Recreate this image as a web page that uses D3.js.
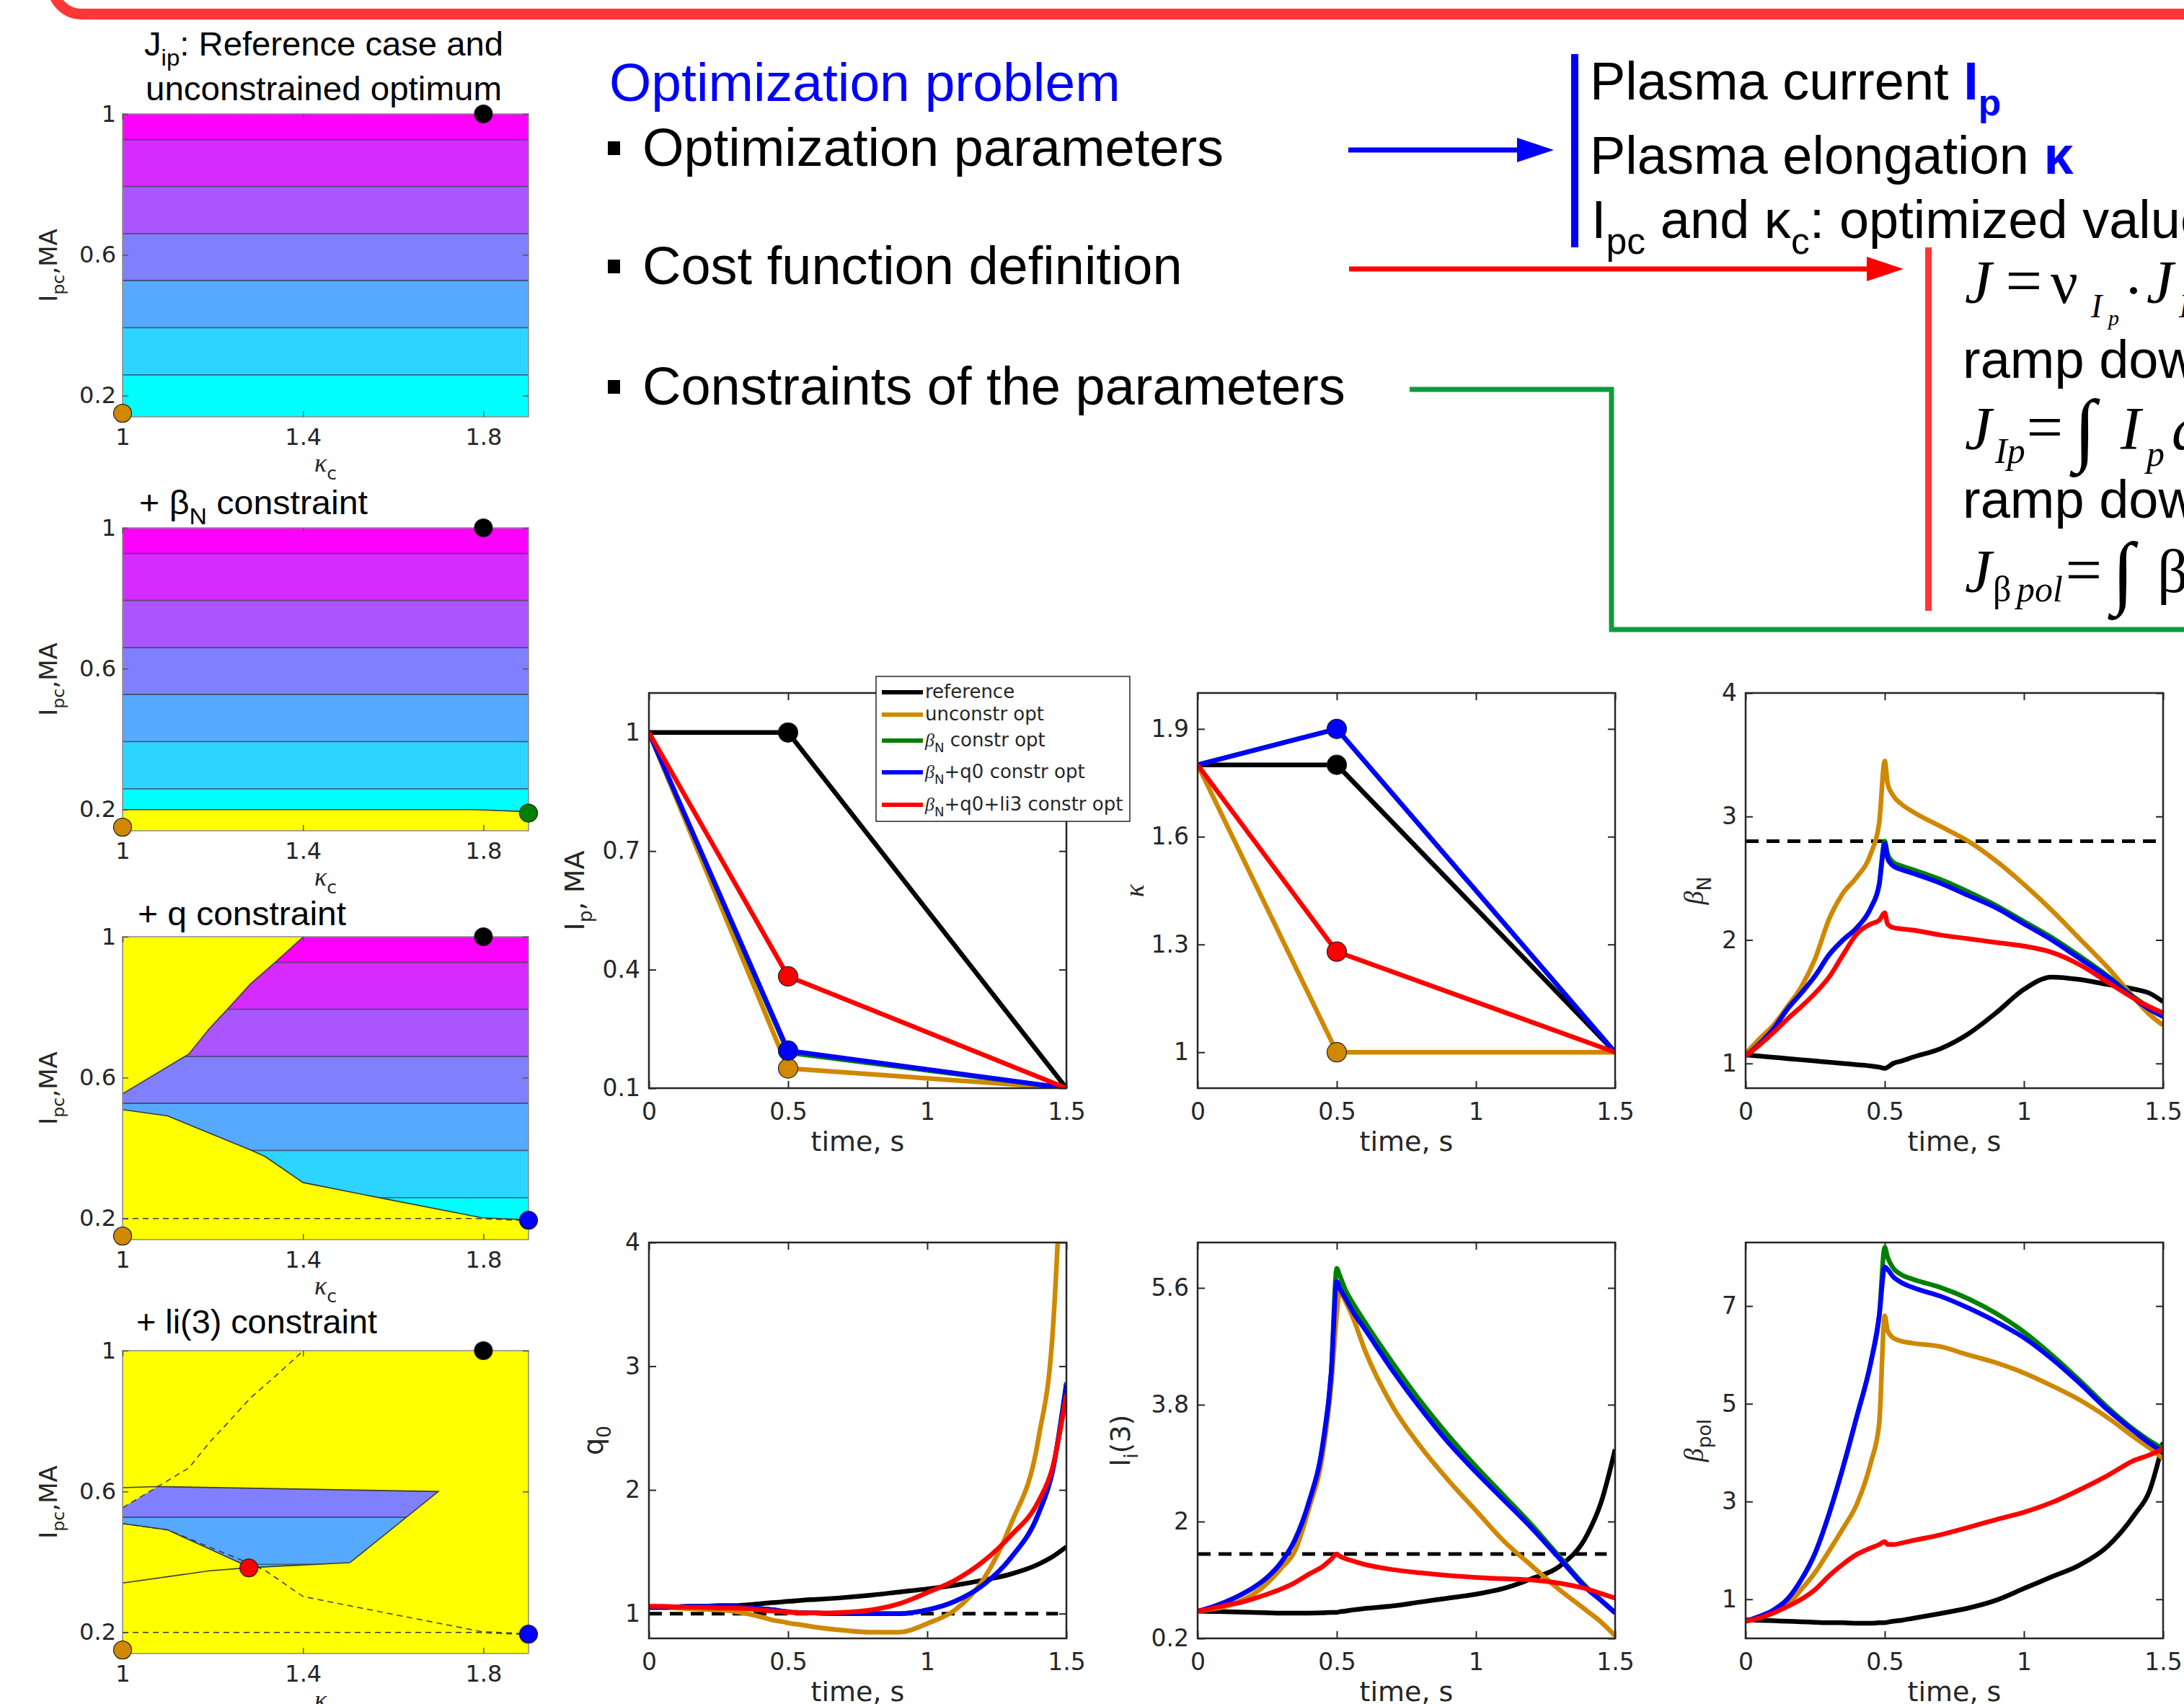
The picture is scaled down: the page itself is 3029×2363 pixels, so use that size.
<!DOCTYPE html>
<html>
<head>
<meta charset="utf-8">
<title>Optimization problem</title>
<script src="https://cdn.jsdelivr.net/npm/d3@7"></script>
<style>
  html, body { margin: 0; padding: 0; background: #fff; overflow: hidden; }
  svg { display: block; }
</style>
</head>
<body>
<svg id="chart" width="3029" height="2363" viewBox="0 0 3029 2363"></svg>
<script>
(function () {
  'use strict';

  // ---- time traces ----
  const T_DOMAIN = [0, 1.5];
  const T_TICKS = [0, 0.5, 1, 1.5];
  const T_KNOTS = [0, 0.5, 1.5];
  const T = [0, 0.05, 0.1, 0.15, 0.2, 0.25, 0.3, 0.35, 0.4, 0.45, 0.48, 0.5, 0.51, 0.53, 0.56,
             0.6, 0.7, 0.8, 0.9, 1.0, 1.1, 1.2, 1.3, 1.4, 1.45, 1.5];

  // plasma current waveform knots, MA
  const IP_REF = [1, 1, 0.1];
  const IP_UNC = [1, 0.15, 0.1];
  const IP_BN = [1, 0.19, 0.1];
  const IP_BNQ = [1, 0.195, 0.1];
  const IP_BNQLI = [1, 0.383, 0.1];

  // elongation waveform knots
  const KAPPA_REF = [1.8, 1.8, 1.0];
  const KAPPA_UNC = [1.8, 1.0, 1.0];
  const KAPPA_BN = [1.8, 1.9, 1.0];
  const KAPPA_BNQ = [1.8, 1.9, 1.0];
  const KAPPA_BNQLI = [1.8, 1.28, 1.0];

  // beta_N on T
  const BN_REF = [1.07, 1.06, 1.05, 1.04, 1.03, 1.02, 1.01, 1.00, 0.99, 0.98, 0.97, 0.96, 0.97, 1.00, 1.02,
                  1.05, 1.12, 1.24, 1.41, 1.60, 1.70, 1.68, 1.64, 1.60, 1.57, 1.50];
  const BN_UNC = [1.08, 1.20, 1.31, 1.46, 1.62, 1.85, 2.17, 2.38, 2.51, 2.70, 2.95, 3.45, 3.27, 3.17, 3.10,
                  3.04, 2.92, 2.80, 2.64, 2.45, 2.24, 2.01, 1.78, 1.52, 1.40, 1.31];
  const BN_BN = [1.06, 1.16, 1.28, 1.44, 1.57, 1.71, 1.88, 2.00, 2.10, 2.26, 2.45, 2.80, 2.70, 2.63, 2.60,
                 2.57, 2.49, 2.39, 2.28, 2.15, 2.02, 1.87, 1.71, 1.53, 1.45, 1.38];
  const BN_BNQ = [1.06, 1.16, 1.28, 1.44, 1.57, 1.71, 1.88, 2.00, 2.10, 2.26, 2.45, 2.78, 2.66, 2.60, 2.57,
                  2.54, 2.46, 2.36, 2.26, 2.13, 2.00, 1.85, 1.70, 1.52, 1.44, 1.38];
  const BN_BNQLI = [1.06, 1.15, 1.25, 1.36, 1.46, 1.57, 1.70, 1.88, 2.05, 2.13, 2.16, 2.22, 2.13, 2.10, 2.09,
                    2.08, 2.04, 2.01, 1.98, 1.95, 1.90, 1.80, 1.66, 1.52, 1.46, 1.41];
  const BN_LIMIT = 2.8;

  // q0 on T
  const Q_REF = [1.05, 1.05, 1.055, 1.06, 1.06, 1.065, 1.065, 1.07, 1.08, 1.09, 1.095, 1.10, 1.10, 1.105, 1.11,
                 1.115, 1.13, 1.15, 1.175, 1.20, 1.23, 1.27, 1.32, 1.40, 1.46, 1.54];
  const Q_UNC = [1.05, 1.05, 1.045, 1.04, 1.035, 1.03, 1.02, 1.00, 0.975, 0.945, 0.935, 0.925, 0.92, 0.915, 0.905,
                 0.89, 0.865, 0.85, 0.85, 0.92, 1.03, 1.27, 1.72, 2.42, 3.25, 5.6];
  const Q_BN = [1.05, 1.05, 1.055, 1.06, 1.06, 1.06, 1.06, 1.05, 1.04, 1.03, 1.02, 1.015, 1.012, 1.01, 1.007,
                1.005, 1.0, 1.0, 1.0, 1.03, 1.10, 1.23, 1.45, 1.81, 2.15, 2.87];
  const Q_BNQ = [1.05, 1.05, 1.055, 1.06, 1.06, 1.06, 1.06, 1.05, 1.04, 1.03, 1.02, 1.015, 1.012, 1.01, 1.007,
                 1.005, 1.0, 1.0, 1.0, 1.03, 1.10, 1.23, 1.45, 1.81, 2.15, 2.85];
  const Q_BNQLI = [1.06, 1.06, 1.055, 1.05, 1.05, 1.045, 1.045, 1.04, 1.03, 1.02, 1.015, 1.01, 1.01, 1.008, 1.006,
                   1.005, 1.01, 1.03, 1.08, 1.17, 1.27, 1.42, 1.63, 1.91, 2.18, 2.77];
  const Q_LIMIT = 1.0;

  // li(3) on T
  const LI_REF = [0.62, 0.615, 0.61, 0.605, 0.60, 0.595, 0.59, 0.59, 0.59, 0.595, 0.60, 0.60, 0.61, 0.62, 0.64,
                  0.66, 0.70, 0.76, 0.82, 0.88, 0.97, 1.12, 1.31, 1.80, 2.30, 3.11];
  const LI_UNC = [0.62, 0.65, 0.69, 0.77, 0.88, 1.05, 1.28, 1.55, 2.20, 3.05, 4.10, 5.20, 5.55, 5.40, 5.12,
                  4.65, 3.78, 3.16, 2.64, 2.17, 1.70, 1.32, 0.95, 0.62, 0.45, 0.24];
  const LI_BN = [0.62, 0.68, 0.76, 0.86, 0.98, 1.14, 1.37, 1.72, 2.30, 3.20, 4.30, 5.90, 5.80, 5.58, 5.35,
                 5.08, 4.45, 3.86, 3.33, 2.85, 2.40, 1.95, 1.46, 0.98, 0.79, 0.60];
  const LI_BNQ = [0.62, 0.68, 0.76, 0.86, 0.98, 1.14, 1.37, 1.72, 2.30, 3.20, 4.30, 5.70, 5.60, 5.45, 5.22,
                  4.97, 4.33, 3.75, 3.22, 2.76, 2.33, 1.90, 1.43, 0.96, 0.78, 0.59];
  const LI_BNQLI = [0.62, 0.66, 0.71, 0.75, 0.81, 0.88, 0.96, 1.06, 1.19, 1.31, 1.42, 1.50, 1.47, 1.43, 1.39,
                    1.34, 1.26, 1.21, 1.17, 1.14, 1.12, 1.10, 1.05, 0.96, 0.89, 0.82];
  const LI_LIMIT = 1.5;

  // beta_pol on T
  const BP_REF = [0.58, 0.57, 0.56, 0.55, 0.54, 0.53, 0.52, 0.52, 0.51, 0.51, 0.52, 0.52, 0.53, 0.55, 0.57,
                  0.61, 0.71, 0.82, 0.98, 1.22, 1.46, 1.70, 2.08, 2.75, 3.20, 4.21];
  const BP_UNC = [0.55, 0.62, 0.72, 0.88, 1.20, 1.55, 1.99, 2.45, 2.95, 3.80, 4.60, 6.80, 6.50, 6.35, 6.28,
                  6.24, 6.17, 6.00, 5.84, 5.63, 5.37, 5.08, 4.72, 4.30, 4.10, 3.88];
  const BP_BN = [0.55, 0.65, 0.78, 1.00, 1.40, 1.95, 2.75, 3.70, 4.75, 5.85, 6.80, 8.20, 8.00, 7.78, 7.64,
                 7.55, 7.38, 7.15, 6.85, 6.47, 6.00, 5.48, 4.93, 4.45, 4.25, 4.08];
  const BP_BNQ = [0.55, 0.65, 0.78, 1.00, 1.40, 1.95, 2.75, 3.70, 4.75, 5.85, 6.80, 7.80, 7.75, 7.60, 7.48,
                  7.38, 7.20, 6.96, 6.68, 6.35, 5.92, 5.42, 4.88, 4.42, 4.20, 4.01];
  const BP_BNQLI = [0.55, 0.62, 0.72, 0.85, 1.00, 1.20, 1.48, 1.72, 1.92, 2.05, 2.12, 2.18, 2.12, 2.12, 2.15,
                    2.20, 2.32, 2.47, 2.63, 2.78, 2.98, 3.24, 3.53, 3.85, 3.95, 4.08];

  // ---- J_ip maps over (kappa_c, I_pc) ----
  const KC_DOMAIN = [1, 1.9];
  const KC_TICKS = [1, 1.4, 1.8];
  const IPC_DOMAIN = [0.14, 1];
  const IPC_TICKS = [0.2, 0.6, 1];
  const J_LEVELS = [0.259, 0.393, 0.527, 0.66, 0.794, 0.927];   // contour lines, in I_pc
  const BN_BOUND = [[1, 0.2], [1.78, 0.2], [1.9, 0.194]];
  const Q_UPPER = [[1, 0.554], [1.147, 0.667], [1.193, 0.740], [1.234, 0.796], [1.283, 0.865], [1.34, 0.929], [1.401, 1.0]];
  const Q_LOWER = [[1, 0.509], [1.1, 0.491], [1.283, 0.395], [1.316, 0.376], [1.4, 0.302], [1.569, 0.259], [1.797, 0.202], [1.9, 0.196]];
  const LI3_UPPER = [[1, 0.611], [1.078, 0.614], [1.7, 0.600], [1.504, 0.398]];
  const LI3_LOWER = [[1, 0.340], [1.193, 0.375], [1.283, 0.384], [1.504, 0.398]];
  const LI3_FEASIBLE = [[1, 0.554], [1.078, 0.614], [1.7, 0.600], [1.504, 0.398], [1.283, 0.384], [1.1, 0.491], [1, 0.509]];

  // ---- look ----
  const FONT_PLOT = 'DejaVu Sans';
  const FONT_SLIDE = 'Liberation Sans';
  const FONT_MATH = 'Liberation Serif';
  const AXIS_INK = '#262626';
  const YELLOW = '#ffff00';

  const SERIES = [
    { key: 'ref', color: '#000000', ip: IP_REF, kappa: KAPPA_REF, bn: BN_REF, q0: Q_REF, li3: LI_REF, bpol: BP_REF, dot: true,
      legend: [{ t: 'reference' }] },
    { key: 'unc', color: '#cf8800', ip: IP_UNC, kappa: KAPPA_UNC, bn: BN_UNC, q0: Q_UNC, li3: LI_UNC, bpol: BP_UNC, dot: true,
      legend: [{ t: 'unconstr opt' }] },
    { key: 'bn', color: '#008000', ip: IP_BN, kappa: KAPPA_BN, bn: BN_BN, q0: Q_BN, li3: LI_BN, bpol: BP_BN, dot: false,
      legend: [{ t: 'β', it: true, ff: FONT_MATH }, { t: 'N', lvl: 1 }, { t: ' constr opt' }] },
    { key: 'bnq', color: '#0000ff', ip: IP_BNQ, kappa: KAPPA_BNQ, bn: BN_BNQ, q0: Q_BNQ, li3: LI_BNQ, bpol: BP_BNQ, dot: true,
      legend: [{ t: 'β', it: true, ff: FONT_MATH }, { t: 'N', lvl: 1 }, { t: '+q0 constr opt' }] },
    { key: 'bnqli', color: '#ff0000', ip: IP_BNQLI, kappa: KAPPA_BNQLI, bn: BN_BNQLI, q0: Q_BNQLI, li3: LI_BNQLI, bpol: BP_BNQLI, dot: true,
      legend: [{ t: 'β', it: true, ff: FONT_MATH }, { t: 'N', lvl: 1 }, { t: '+q0+li3 constr opt' }] },
  ];
  const byKey = Object.fromEntries(SERIES.map(s => [s.key, s]));

  const svg = d3.select('#chart');

  // text with sub/superscript runs
  function rich(text, segs, size) {
    let shift = 0;
    segs.forEach(s => {
      const lvl = s.lvl || 0;
      const target = lvl * size * 0.3;
      const ts = text.append('tspan').text(s.t).attr('font-size', size * Math.pow(0.7, lvl));
      if (target !== shift) { ts.attr('dy', target - shift); shift = target; }
      if (s.it) ts.attr('font-style', 'italic');
      if (s.bold) ts.attr('font-weight', 'bold');
      if (s.fill) ts.attr('fill', s.fill);
      if (s.ff) ts.attr('font-family', s.ff);
    });
    return text;
  }

  function styleAxis(sel, size) {
    sel.select('.domain').remove();
    sel.attr('font-size', size).attr('font-family', FONT_PLOT).attr('color', AXIS_INK);
    sel.selectAll('.tick line').attr('stroke-width', 2);
  }

  // ---------- slide frame ----------
  svg.append('rect').attr('x', 73).attr('y', -300).attr('width', 3200).attr('height', 319.5).attr('rx', 40)
    .attr('fill', 'none').attr('stroke', '#ff3636').attr('stroke-width', 15);

  // ---------- left column: J_ip maps ----------
  const CL = 170, CW = 563, CH = 420;

  function contourPlot(cfg) {
    const top = cfg.top, bottom = top + CH;
    const x = d3.scaleLinear().domain(KC_DOMAIN).range([CL, CL + CW]);
    const y = d3.scaleLinear().domain(IPC_DOMAIN).range([bottom, top]);
    const line = d3.line().x(d => x(d[0])).y(d => y(d[1]));
    const g = svg.append('g');
    const edges = [IPC_DOMAIN[0], ...J_LEVELS, IPC_DOMAIN[1]];
    const band = d3.interpolateRgb('#00ffff', '#ff00ff');

    let layer = g;
    if (cfg.feasible) {
      g.append('rect').attr('x', CL).attr('y', top).attr('width', CW).attr('height', CH).attr('fill', YELLOW);
      const cid = 'feasible-' + cfg.id;
      g.append('clipPath').attr('id', cid).append('path').attr('d', line(cfg.feasible) + 'Z');
      layer = g.append('g').attr('clip-path', `url(#${cid})`);
    }
    layer.selectAll('rect.band').data(d3.range(edges.length - 1)).join('rect').attr('class', 'band')
      .attr('x', x(KC_DOMAIN[0])).attr('width', x(KC_DOMAIN[1]) - x(KC_DOMAIN[0]))
      .attr('y', i => y(edges[i + 1])).attr('height', i => y(edges[i]) - y(edges[i + 1]))
      .attr('fill', i => band(i / (edges.length - 2)));
    layer.selectAll('line.level').data(J_LEVELS).join('line').attr('class', 'level')
      .attr('x1', x(KC_DOMAIN[0])).attr('x2', x(KC_DOMAIN[1]))
      .attr('y1', d => y(d)).attr('y2', d => y(d))
      .attr('stroke', '#3a3a5a').attr('stroke-opacity', 0.75).attr('stroke-width', 1.8);

    (cfg.infeasible || []).forEach(poly => {
      g.append('path').attr('d', line(poly) + 'Z').attr('fill', YELLOW);
    });
    (cfg.solid || []).forEach(pts => {
      g.append('path').attr('d', line(pts)).attr('fill', 'none')
        .attr('stroke', '#3a3a3a').attr('stroke-width', 1.6);
    });
    (cfg.dashed || []).forEach(pts => {
      g.append('path').attr('d', line(pts)).attr('fill', 'none')
        .attr('stroke', '#3a3a3a').attr('stroke-width', 1.5).attr('stroke-dasharray', '8,6');
    });

    g.append('rect').attr('x', CL).attr('y', top).attr('width', CW).attr('height', CH)
      .attr('fill', 'none').attr('stroke', '#8f8f8f').attr('stroke-width', 1.6);

    const fmt = d => String(d), none = () => '';
    g.append('g').attr('transform', `translate(0,${bottom})`)
      .call(d3.axisBottom(x).tickValues(KC_TICKS).tickFormat(fmt).tickSizeInner(-8).tickSizeOuter(0).tickPadding(16))
      .call(styleAxis, 32);
    g.append('g').attr('transform', `translate(0,${top})`)
      .call(d3.axisTop(x).tickValues(KC_TICKS).tickFormat(none).tickSizeInner(-8).tickSizeOuter(0))
      .call(styleAxis, 32);
    g.append('g').attr('transform', `translate(${CL},0)`)
      .call(d3.axisLeft(y).tickValues(IPC_TICKS).tickFormat(fmt).tickSizeInner(-8).tickSizeOuter(0).tickPadding(9))
      .call(styleAxis, 32);
    g.append('g').attr('transform', `translate(${CL + CW},0)`)
      .call(d3.axisRight(y).tickValues(IPC_TICKS).tickFormat(none).tickSizeInner(-8).tickSizeOuter(0))
      .call(styleAxis, 32);
    g.selectAll('.tick line').attr('stroke', '#555').attr('stroke-width', 1.5);

    g.selectAll('circle.opt').data(cfg.dots.map(k => byKey[k])).join('circle').attr('class', 'opt')
      .attr('cx', s => x(s.kappa[1])).attr('cy', s => y(s.ip[1])).attr('r', 12.5)
      .attr('fill', s => s.color).attr('stroke', '#222').attr('stroke-width', 1.2);

    cfg.title.forEach(tl => {
      const t = g.append('text').attr('x', tl.x).attr('y', tl.y).attr('font-family', FONT_SLIDE)
        .attr('fill', '#000').attr('textLength', tl.len).attr('lengthAdjust', 'spacingAndGlyphs');
      rich(t, tl.segs, 46);
    });

    rich(g.append('text').attr('transform', `translate(79,${top + CH / 2}) rotate(-90)`)
      .attr('text-anchor', 'middle').attr('font-family', FONT_PLOT).attr('fill', AXIS_INK),
      [{ t: 'I' }, { t: 'pc', lvl: 1 }, { t: ',MA' }], 34);
    rich(g.append('text').attr('x', CL + CW / 2).attr('y', bottom + 76)
      .attr('text-anchor', 'middle').attr('font-family', FONT_PLOT).attr('fill', AXIS_INK),
      [{ t: 'κ', it: true, ff: FONT_MATH }, { t: 'c', lvl: 1 }], 36);
  }

  contourPlot({
    id: 'ref', top: 158, dots: ['ref', 'unc'],
    title: [
      { x: 200, y: 77, len: 498, segs: [{ t: 'J' }, { t: 'ip', lvl: 1 }, { t: ': Reference case and' }] },
      { x: 202, y: 139, len: 494, segs: [{ t: 'unconstrained optimum' }] },
    ],
  });
  contourPlot({
    id: 'bn', top: 732, dots: ['ref', 'unc', 'bn'],
    infeasible: [BN_BOUND.concat([[1.9, 0.14], [1, 0.14]])],
    solid: [BN_BOUND],
    title: [{ x: 193, y: 713, len: 317, segs: [{ t: '+ β' }, { t: 'N', lvl: 1 }, { t: ' constraint' }] }],
  });
  contourPlot({
    id: 'q', top: 1299, dots: ['ref', 'unc', 'bnq'],
    infeasible: [Q_UPPER.concat([[1, 1]]), Q_LOWER.concat([[1.9, 0.14], [1, 0.14]])],
    solid: [Q_UPPER, Q_LOWER],
    dashed: [BN_BOUND],
    title: [{ x: 191, y: 1283, len: 289, segs: [{ t: '+ q constraint' }] }],
  });
  contourPlot({
    id: 'li', top: 1873, dots: ['ref', 'unc', 'bnq', 'bnqli'],
    feasible: LI3_FEASIBLE,
    solid: [LI3_UPPER, LI3_LOWER, LI3_FEASIBLE.slice(4)],
    dashed: [BN_BOUND, Q_UPPER, Q_LOWER],
    title: [{ x: 189, y: 1849, len: 334, segs: [{ t: '+ li(3) constraint' }] }],
  });

  // ---------- slide text ----------
  const slide = svg.append('g').attr('font-family', FONT_SLIDE);
  slide.append('text').attr('x', 845).attr('y', 140).attr('font-size', 75).attr('fill', '#0000ff')
    .text('Optimization problem');
  const BULLETS = ['Optimization parameters', 'Cost function definition', 'Constraints of the parameters'];
  const BULLET_Y = [230, 394, 561];
  BULLETS.forEach((b, i) => {
    slide.append('rect').attr('x', 843).attr('y', BULLET_Y[i] - 34).attr('width', 17).attr('height', 19).attr('fill', '#000');
    slide.append('text').attr('x', 891).attr('y', BULLET_Y[i]).attr('font-size', 74).attr('fill', '#000').text(b);
  });

  // arrows / connectors
  slide.append('line').attr('x1', 1870).attr('x2', 2108).attr('y1', 208).attr('y2', 208)
    .attr('stroke', '#0000ff').attr('stroke-width', 7);
  slide.append('path').attr('d', 'M2104,191L2155,208L2104,225Z').attr('fill', '#0000ff');
  slide.append('line').attr('x1', 1871).attr('x2', 2592).attr('y1', 373).attr('y2', 373)
    .attr('stroke', '#ff0000').attr('stroke-width', 7);
  slide.append('path').attr('d', 'M2589,356L2640,373L2589,390Z').attr('fill', '#ff0000');
  slide.append('path').attr('d', 'M1955,540H2235V873H3040').attr('fill', 'none')
    .attr('stroke', '#119a3b').attr('stroke-width', 7);
  slide.append('rect').attr('x', 2179).attr('y', 75).attr('width', 10).attr('height', 268).attr('fill', '#0000ff');
  slide.append('rect').attr('x', 2670).attr('y', 343).attr('width', 9).attr('height', 504).attr('fill', '#ff3636');

  rich(slide.append('text').attr('x', 2205).attr('y', 138).attr('fill', '#000'),
    [{ t: 'Plasma current ' }, { t: 'I', bold: true, fill: '#0000ff' }, { t: 'p', lvl: 1, bold: true, fill: '#0000ff' }], 74);
  rich(slide.append('text').attr('x', 2205).attr('y', 241).attr('fill', '#000'),
    [{ t: 'Plasma elongation ' }, { t: 'κ', bold: true, fill: '#0000ff' }], 74);
  rich(slide.append('text').attr('x', 2207).attr('y', 330).attr('fill', '#000'),
    [{ t: 'I' }, { t: 'pc', lvl: 1 }, { t: ' and κ' }, { t: 'c', lvl: 1 }, { t: ': optimized values' }], 74);

  // cost function (right edge of the slide is cropped)
  const MATH = [
    { x: 2725, y: 420, t: 'J', s: 84, it: 1 },
    { x: 2807, y: 420, t: '=', s: 90, a: 'middle' },
    { x: 2844, y: 420, t: 'ν', s: 84 },
    { x: 2900, y: 440, t: 'I', s: 46, it: 1 },
    { x: 2924, y: 451, t: 'p', s: 30, it: 1 },
    { x: 2959, y: 431, t: '·', s: 84, a: 'middle' },
    { x: 2977, y: 420, t: 'J', s: 84, it: 1 },
    { x: 3022, y: 440, t: 'I', s: 46, it: 1 },
    { x: 2725, y: 623, t: 'J', s: 84, it: 1 },
    { x: 2767, y: 642, t: 'Ip', s: 50, it: 1 },
    { x: 2836, y: 623, t: '=', s: 90, a: 'middle' },
    { x: 2876, y: 632, t: '∫', s: 112 },
    { x: 2941, y: 623, t: 'I', s: 84, it: 1 },
    { x: 2977, y: 646, t: 'p', s: 50, it: 1 },
    { x: 3012, y: 623, t: 'd', s: 84, it: 1 },
    { x: 2725, y: 821, t: 'J', s: 84, it: 1 },
    { x: 2764, y: 834, t: 'β', s: 50 },
    { x: 2797, y: 834, t: 'pol', s: 50, it: 1 },
    { x: 2890, y: 821, t: '=', s: 90, a: 'middle' },
    { x: 2929, y: 830, t: '∫', s: 112 },
    { x: 2992, y: 821, t: 'β', s: 84 },
  ];
  svg.append('g').attr('font-family', FONT_MATH).selectAll('text').data(MATH).join('text')
    .attr('x', d => d.x).attr('y', d => d.y).attr('font-size', d => d.s)
    .attr('font-style', d => d.it ? 'italic' : null).attr('text-anchor', d => d.a || 'start')
    .attr('fill', '#000').text(d => d.t);
  slide.append('text').attr('x', 2722).attr('y', 524).attr('font-size', 74).text('ramp down');
  slide.append('text').attr('x', 2722).attr('y', 718).attr('font-size', 74).text('ramp down');

  // ---------- time traces ----------
  const TW = 579;
  function timePlot(cfg) {
    const { id, left, top, h, key } = cfg;
    const bottom = top + h;
    const ts = (key === 'ip' || key === 'kappa') ? T_KNOTS : T;
    const x = d3.scaleLinear().domain(T_DOMAIN).range([left, left + TW]);
    const y = d3.scaleLinear().domain(cfg.yDomain).range([bottom, top]);
    const g = svg.append('g');
    g.append('clipPath').attr('id', 'clip-' + id).append('rect')
      .attr('x', left).attr('y', top).attr('width', TW).attr('height', h);

    const fmt = d => String(d), none = () => '';
    g.append('g').attr('transform', `translate(0,${bottom})`)
      .call(d3.axisBottom(x).tickValues(T_TICKS).tickFormat(fmt).tickSizeInner(-10).tickSizeOuter(0).tickPadding(21))
      .call(styleAxis, 33);
    g.append('g').attr('transform', `translate(0,${top})`)
      .call(d3.axisTop(x).tickValues(T_TICKS).tickFormat(none).tickSizeInner(-10).tickSizeOuter(0))
      .call(styleAxis, 33);
    g.append('g').attr('transform', `translate(${left},0)`)
      .call(d3.axisLeft(y).tickValues(cfg.yTicks).tickFormat(fmt).tickSizeInner(-10).tickSizeOuter(0).tickPadding(12))
      .call(styleAxis, 33);
    g.append('g').attr('transform', `translate(${left + TW},0)`)
      .call(d3.axisRight(y).tickValues(cfg.yTicks).tickFormat(none).tickSizeInner(-10).tickSizeOuter(0))
      .call(styleAxis, 33);

    if (cfg.limit != null) {
      g.append('line').attr('x1', x(0)).attr('x2', x(cfg.limitEnd)).attr('y1', y(cfg.limit)).attr('y2', y(cfg.limit))
        .attr('stroke', '#000').attr('stroke-width', 5).attr('stroke-dasharray', '18,11');
    }

    const line = d3.line().x((d, i) => x(ts[i])).y(d => y(d))
      .curve(ts === T ? d3.curveMonotoneX : d3.curveLinear);
    g.append('g').attr('clip-path', `url(#clip-${id})`)
      .selectAll('path').data(SERIES).join('path')
      .attr('d', s => line(s[key])).attr('fill', 'none').attr('stroke', s => s.color)
      .attr('stroke-width', 6.5).attr('stroke-linejoin', 'round');

    g.append('rect').attr('x', left).attr('y', top).attr('width', TW).attr('height', h)
      .attr('fill', 'none').attr('stroke', AXIS_INK).attr('stroke-width', 2.5);

    if (ts === T_KNOTS) {
      g.selectAll('circle').data(SERIES.filter(s => s.dot)).join('circle')
        .attr('cx', x(T_KNOTS[1])).attr('cy', s => y(s[key][1])).attr('r', 13.5)
        .attr('fill', s => s.color).attr('stroke', '#222').attr('stroke-width', 1.2);
    }

    g.append('text').attr('x', left + TW / 2).attr('y', bottom + 87).attr('text-anchor', 'middle')
      .attr('font-family', FONT_PLOT).attr('font-size', 38).attr('fill', AXIS_INK).text('time, s');
    rich(g.append('text').attr('transform', `translate(${cfg.labelX},${top + h / 2}) rotate(-90)`)
      .attr('text-anchor', 'middle').attr('font-family', FONT_PLOT).attr('fill', AXIS_INK),
      cfg.label, 38);
  }

  const TL = [900, 1661, 2421];
  timePlot({ id: 'ip', key: 'ip', left: TL[0], top: 961, h: 548, yDomain: [0.1, 1.1], yTicks: [0.1, 0.4, 0.7, 1],
    label: [{ t: 'I' }, { t: 'p', lvl: 1 }, { t: ', MA' }], labelX: 810 });
  timePlot({ id: 'kappa', key: 'kappa', left: TL[1], top: 961, h: 548, yDomain: [0.9, 2.0], yTicks: [1, 1.3, 1.6, 1.9],
    label: [{ t: 'κ', it: true, ff: FONT_MATH }], labelX: 1586 });
  timePlot({ id: 'bn', key: 'bn', left: TL[2], top: 961, h: 548, yDomain: [0.8, 4], yTicks: [1, 2, 3, 4],
    limit: BN_LIMIT, limitEnd: 1.5,
    label: [{ t: 'β', it: true, ff: FONT_MATH }, { t: 'N', lvl: 1 }], labelX: 2362 });
  timePlot({ id: 'q0', key: 'q0', left: TL[0], top: 1723, h: 549, yDomain: [0.8, 4], yTicks: [1, 2, 3, 4],
    limit: Q_LIMIT, limitEnd: 1.47,
    label: [{ t: 'q' }, { t: '0', lvl: 1 }], labelX: 836 });
  timePlot({ id: 'li3', key: 'li3', left: TL[1], top: 1723, h: 549, yDomain: [0.2, 6.3], yTicks: [0.2, 2, 3.8, 5.6],
    limit: LI_LIMIT, limitEnd: 1.47,
    label: [{ t: 'l' }, { t: 'i', lvl: 1 }, { t: '(3)' }], labelX: 1567 });
  timePlot({ id: 'bpol', key: 'bpol', left: TL[2], top: 1723, h: 549, yDomain: [0.2, 8.3], yTicks: [1, 3, 5, 7],
    label: [{ t: 'β', it: true, ff: FONT_MATH }, { t: 'pol', lvl: 1 }], labelX: 2362 });

  // ---------- legend (sits over the I_p axes) ----------
  const LEGEND_ROW_Y = [960, 991, 1027, 1071, 1116];
  const lg = svg.append('g').attr('font-family', FONT_PLOT);
  lg.append('rect').attr('x', 1215).attr('y', 938).attr('width', 352).attr('height', 201)
    .attr('fill', '#fff').attr('stroke', AXIS_INK).attr('stroke-width', 1.5);
  SERIES.forEach((s, i) => {
    const cy = LEGEND_ROW_Y[i];
    lg.append('line').attr('x1', 1223).attr('x2', 1280).attr('y1', cy).attr('y2', cy)
      .attr('stroke', s.color).attr('stroke-width', 6);
    rich(lg.append('text').attr('x', 1283).attr('y', cy + 8).attr('fill', AXIS_INK), s.legend, 26);
  });
})();
</script>
</body>
</html>
